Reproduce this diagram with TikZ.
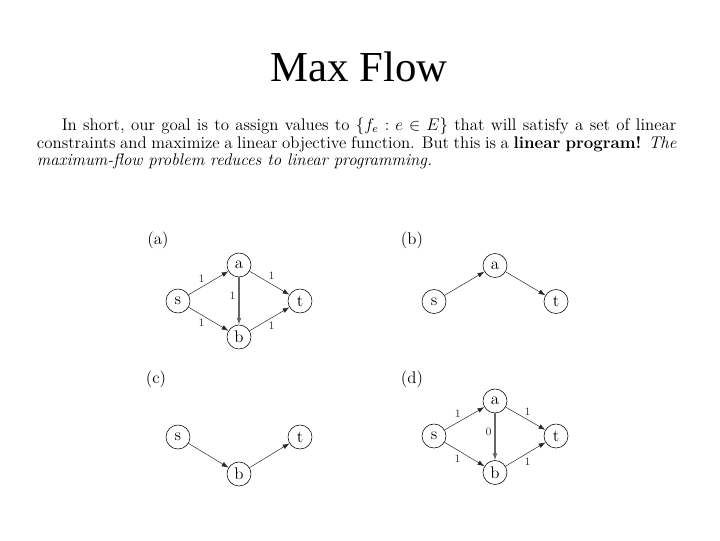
\documentclass[tikz,border=0pt]{standalone}
\usepackage{fontspec}
\usepackage{tikz}
\usetikzlibrary{arrows.meta}
\newfontfamily\titlefont{Liberation Serif}

\begin{document}
\begin{tikzpicture}[x=0.025cm,y=-0.025cm,
  vtx/.style={draw,circle,minimum size=0.6cm,inner sep=0pt,font=\large},
  lbl/.style={font=\footnotesize,inner sep=1pt,text=black!80},
  pan/.style={font=\large,inner sep=0pt},
  fl/.style={->,draw=black!85,line width=0.35pt},
  mid/.style={->,draw=black!60,line width=0.8pt},>={Latex[length=1.7mm,width=1.2mm]}]
  \useasboundingbox (0,0) rectangle (720,540);
  \node[font=\titlefont\fontsize{30.4}{36}\selectfont,anchor=base] (title) at (359,81.7) {Max Flow};
  \node[anchor=north west,text width=15.98cm,align=justify,inner sep=0pt,
    font=\fontsize{12}{12.6}\selectfont] (txt) at (36.7,117.5)
   {\hspace*{0.62cm}In short, our goal is to assign values to $\{f_e : e\in E\}$ that will satisfy a set of linear\linebreak
    constraints and maximize a linear objective function. But this is a \textbf{linear program!} \emph{The\linebreak
    maximum-flow problem reduces to linear programming.}};
  % (a)
  \node[pan] (la) at (158,240) {(a)};
  \node[vtx] (s1) at (178,301) {s};
  \node[vtx] (a1) at (239,265) {a};
  \node[vtx] (t1) at (300,301) {t};
  \node[vtx] (b1) at (239,337) {b};
  \draw[fl] (s1) -- node[lbl,pos=.33,above=2pt]{1} (a1);
  \draw[fl] (a1) -- node[lbl,pos=.55,above=2pt]{1} (t1);
  \draw[mid] (a1) -- node[lbl,pos=.38,left=1pt]{1} (b1);
  \draw[fl] (s1) -- node[lbl,pos=.33,below=2pt]{1} (b1);
  \draw[fl] (b1) -- node[lbl,pos=.55,below=2pt]{1} (t1);
  % (b)
  \node[pan] (lb) at (412,240) {(b)};
  \node[vtx] (s2) at (434,301.5) {s};
  \node[vtx] (a2) at (495,265.5) {a};
  \node[vtx] (t2) at (556,301.5) {t};
  \draw[fl] (s2) -- (a2);
  \draw[fl] (a2) -- (t2);
  % (c)
  \node[pan] (lc) at (156,379) {(c)};
  \node[vtx] (s3) at (178,437) {s};
  \node[vtx] (t3) at (300,437) {t};
  \node[vtx] (b3) at (239,474) {b};
  \draw[fl] (s3) -- (b3);
  \draw[fl] (b3) -- (t3);
  % (d)
  \node[pan] (ld) at (412,379) {(d)};
  \node[vtx] (s4) at (434,436) {s};
  \node[vtx] (a4) at (495,401) {a};
  \node[vtx] (t4) at (556,436) {t};
  \node[vtx] (b4) at (495,472.5) {b};
  \draw[fl] (s4) -- node[lbl,pos=.33,above=2pt]{1} (a4);
  \draw[fl] (a4) -- node[lbl,pos=.55,above=2pt]{1} (t4);
  \draw[mid] (a4) -- node[lbl,pos=.4,left=1pt]{0} (b4);
  \draw[fl] (s4) -- node[lbl,pos=.33,below=2pt]{1} (b4);
  \draw[fl] (b4) -- node[lbl,pos=.55,below=2pt]{1} (t4);
\end{tikzpicture}
\end{document}
